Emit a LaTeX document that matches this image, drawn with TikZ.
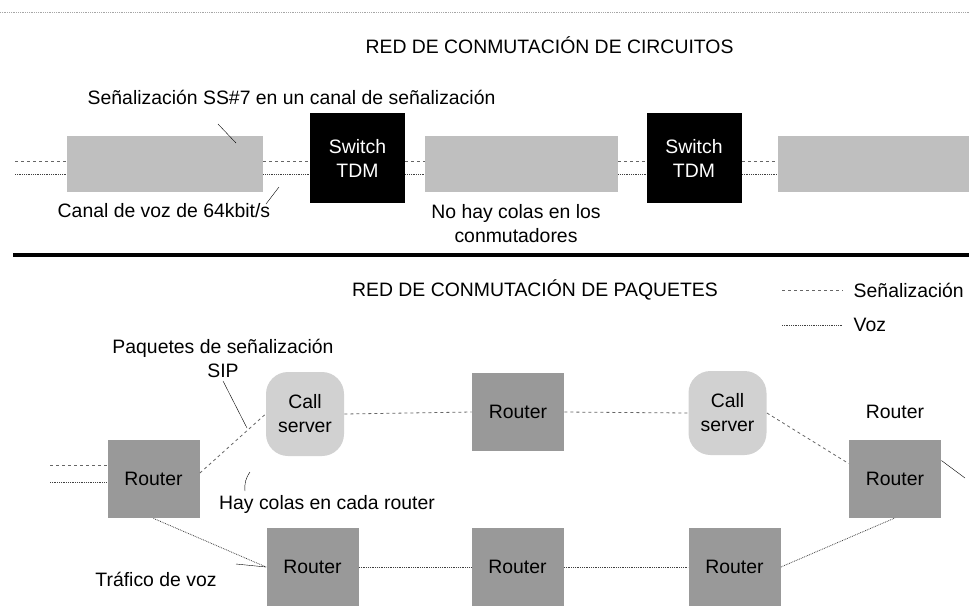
\documentclass[tikz,border=0pt]{standalone}
\usepackage{fontspec}
\setmainfont{Liberation Sans}
\begin{document}
\begin{tikzpicture}[x=1pt, y=-1pt, thick,
    font=\fontsize{19.4}{24}\selectfont,
    canal/.style={rectangle, fill=black!25, minimum height=56pt},
    tdm/.style={rectangle, fill=black, text=white, align=center, minimum width=95pt, minimum height=90pt},
    router/.style={rectangle, fill=black!40, minimum width=92pt, minimum height=78pt},
    server/.style={rectangle, rounded corners=22pt, fill=black!18, align=center, minimum width=78pt, minimum height=84pt},
    sig/.style={dashed, black!60},
    voz/.style={densely dotted, black!75},
    lead/.style={thin, black}]
      \useasboundingbox (0,0) rectangle (969,614);

      % scan border and separator
      \coordinate (T1) at (0,12);
      \coordinate (T2) at (969,12);
      \draw [densely dotted, black!35] (T1) -- (T2);
      \coordinate (H1) at (13,255);
      \coordinate (H2) at (969,255);
      \draw [line width=3.5pt] (H1) -- (H2);

      % circuit switched network
      \node (B1) [canal, minimum width=196pt] at (165,164) {};
      \node (S1) [tdm] at (357.5,158) {Switch\\TDM};
      \node (B2) [canal, minimum width=193pt] at (521.5,164) {};
      \node (S2) [tdm] at (694,158) {Switch\\TDM};
      \node (B3) [canal, minimum width=191pt] at (873.5,164) {};

      \coordinate (InA) at (15,161);
      \coordinate (InB) at (15,174);
      \path [sig] (InA) edge ([yshift=3pt]B1.west);
      \path [voz] (InB) edge ([yshift=-10pt]B1.west);
      \path [sig] ([yshift=3pt]B1.east) edge ([yshift=-3pt]S1.west);
      \path [voz] ([yshift=-10pt]B1.east) edge ([yshift=-16pt]S1.west);
      \path [sig] ([yshift=-3pt]S1.east) edge ([yshift=3pt]B2.west);
      \path [voz] ([yshift=-16pt]S1.east) edge ([yshift=-10pt]B2.west);
      \path [sig] ([yshift=3pt]B2.east) edge ([yshift=-3pt]S2.west);
      \path [voz] ([yshift=-10pt]B2.east) edge ([yshift=-16pt]S2.west);
      \path [sig] ([yshift=-3pt]S2.east) edge ([yshift=3pt]B3.west);
      \path [voz] ([yshift=-16pt]S2.east) edge ([yshift=-10pt]B3.west);

      \node (TC) at (549.5,45) {RED DE CONMUTACIÓN DE CIRCUITOS};
      \node (SS7) [anchor=west] at (84,97) {Señalización SS\#7 en un canal de señalización};
      \node (CV)  [anchor=west] at (54,211) {Canal de voz de 64kbit/s};
      \node (NC)  [align=center] at (516,224) {No hay colas en los\\conmutadores};

      \coordinate (LssA) at (218,124);
      \coordinate (LssB) at (236,143);
      \draw [lead] (LssA) -- (LssB);
      \coordinate (LcvA) at (266,204);
      \coordinate (LcvB) at (279,187);
      \draw [lead] (LcvA) -- (LcvB);

      % packet switched network
      \node (TP) at (535,290) {RED DE CONMUTACIÓN DE PAQUETES};
      \coordinate (LgA) at (782,290);
      \coordinate (LgB) at (843,290);
      \coordinate (LvA) at (782,325);
      \coordinate (LvB) at (843,325);
      \draw [sig] (LgA) -- (LgB);
      \draw [voz] (LvA) -- (LvB);
      \node (LgT) [anchor=west] at (850,290) {Señalización};
      \node (LvT) [anchor=west] at (850,325) {Voz};

      \node (RL)  [router] at (153.5,479) {Router};
      \node (CS1) [server] at (305,414) {Call\\server};
      \node (RT)  [router] at (518,412) {Router};
      \node (CS2) [server] at (727.5,413) {Call\\server};
      \node (RR)  [router] at (895,478.5) {Router};
      \node (RB1) [router] at (312.5,567) {Router};
      \node (RB2) [router] at (517.5,567) {Router};
      \node (RB3) [router] at (734.5,567) {Router};

      \coordinate (PinA) at (50,465);
      \coordinate (PinB) at (50,482);
      \coordinate (Pout) at (965,478);
      \path [sig] (PinA) edge ([yshift=14pt]RL.west);
      \path [voz] (PinB) edge ([yshift=-3pt]RL.west);
      \path [sig] ([yshift=6pt]RL.east) edge (CS1.west);
      \path [sig] (CS1.east) edge (RT.west);
      \path [sig] (RT.east) edge (CS2.west);
      \path [sig] (CS2.east) edge ([yshift=15pt]RR.west);
      \path [voz] (RL.south) edge (RB1.west);
      \path [voz] (RB1.east) edge (RB2.west);
      \path [voz] (RB2.east) edge (RB3.west);
      \path [voz] (RB3.east) edge (RR.south);
      \path [lead] ([yshift=18pt]RR.east) edge (Pout);

      \node (PQ) [align=center] at (223,358) {Paquetes de señalización\\SIP};
      \node (HC) at (327,504) {Hay colas en cada router};
      \node (TV) at (156,579) {Tráfico de voz};
      \node (RX) at (895,412) {Router};

      \coordinate (Lsip) at (247,428);
      \draw [lead] (PQ.south) -- (Lsip);
      \coordinate (Lhc) at (250,472);
      \draw [lead] ([xshift=-82pt]HC.north) to [bend left=20] (Lhc);
      \coordinate (Ltv) at (236,564);
      \draw [lead] (Ltv) -- (RB1.west);
    \end{tikzpicture}
\end{document}
